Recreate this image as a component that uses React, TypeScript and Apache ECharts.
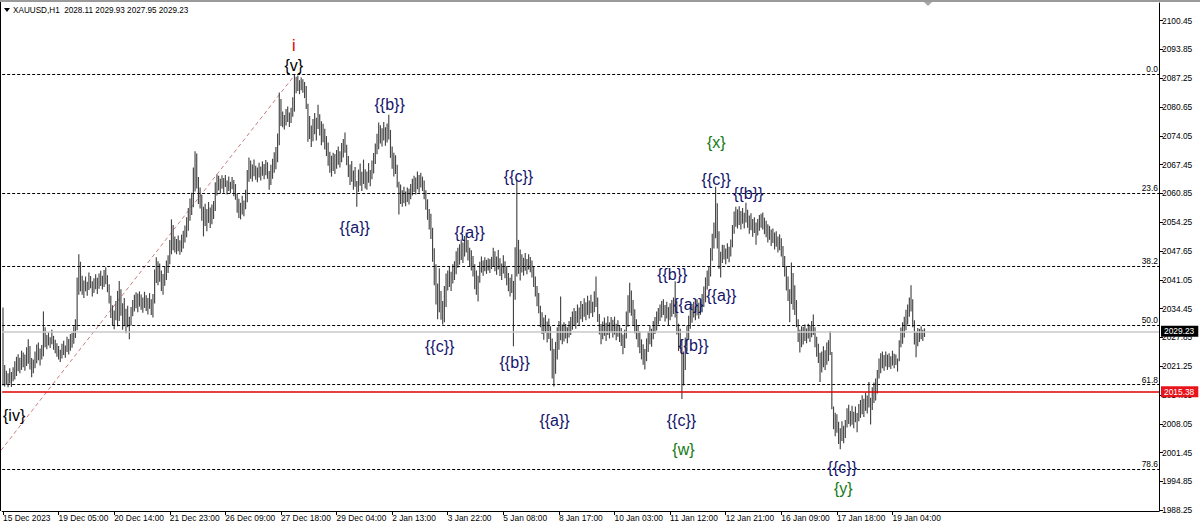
import React, { useEffect, useRef } from "react";
import * as echarts from "echarts";

// ---------- data ----------
const HEADER_TEXT = "XAUUSD,H1  2028.11 2029.93 2027.95 2029.23";

const X_TICK_BARS = [0, 33, 66, 99, 132, 165, 198, 231, 264, 297, 330, 363, 396, 429, 462, 495, 528];
const X_TICK_LABELS = [
  "15 Dec 2023", "19 Dec 05:00", "20 Dec 14:00", "21 Dec 23:00", "26 Dec 09:00", "27 Dec 18:00",
  "29 Dec 04:00", "2 Jan 13:00", "3 Jan 22:00", "5 Jan 08:00", "8 Jan 17:00", "10 Jan 03:00",
  "11 Jan 12:00", "12 Jan 21:00", "16 Jan 09:00", "17 Jan 18:00", "19 Jan 04:00",
];
const Y_TICKS = [
  1988.25, 1994.85, 2001.45, 2008.05, 2014.65, 2021.25, 2027.85, 2034.45, 2041.05,
  2047.65, 2054.25, 2060.85, 2067.45, 2074.05, 2080.65, 2087.25, 2093.85, 2100.45,
];

const FIB_LABELS = ["0.0", "23.6", "38.2", "50.0", "61.8", "78.6"];
const FIB_PRICES = [2088.2, 2061.0, 2044.2, 2030.6, 2017.0, 1997.6];
const FIB_TREND = [[-60.1, 1972.9], [173.6, 2088.2]];

const BID_PRICE = 2029.23;
const ALERT_PRICE = 2015.38;

// hourly bars: [low, high]
const BARS: number[][] = [
  [2016.8,2034.7],[2016.6,2021.5],[2017.0,2020.2],[2016.4,2019.6],[2017.3,2020.8],[2016.5,2019.9],[2017.8,2021.0],[2018.2,2022.4],[2019.0,2023.4],[2020.1,2024.0],
  [2019.6,2023.2],[2020.4,2024.8],[2021.0,2024.4],[2020.2,2023.9],[2021.3,2025.6],[2021.8,2027.4],[2020.5,2025.9],[2018.7,2023.1],[2019.6,2022.8],[2020.8,2024.6],
  [2021.9,2026.2],[2022.6,2026.7],[2021.4,2025.3],[2022.8,2026.1],[2023.5,2033.8],[2025.6,2030.2],[2025.1,2028.4],[2026.0,2029.0],[2025.4,2027.9],[2026.3,2029.6],
  [2025.0,2028.2],[2024.2,2027.3],[2023.4,2026.5],[2022.8,2025.9],[2022.2,2025.0],[2023.0,2026.4],[2023.8,2027.1],[2023.2,2026.0],[2024.5,2028.0],[2023.9,2027.5],
  [2024.8,2028.6],[2025.5,2028.9],[2026.4,2030.4],[2027.7,2032.0],[2029.5,2041.6],[2037.6,2046.9],[2038.4,2045.2],[2037.6,2042.0],[2036.9,2040.9],[2038.4,2041.8],
  [2037.4,2040.6],[2038.7,2042.7],[2039.1,2041.9],[2037.2,2040.7],[2038.0,2041.4],[2038.9,2042.3],[2037.8,2041.5],[2039.0,2042.5],[2039.6,2043.1],[2038.8,2042.0],
  [2039.4,2043.3],[2040.0,2043.9],[2038.2,2042.1],[2035.6,2040.0],[2032.3,2037.4],[2030.6,2035.2],[2029.7,2034.0],[2031.8,2036.2],[2030.4,2038.5],[2031.6,2040.8],
  [2032.8,2038.9],[2029.6,2035.7],[2030.4,2036.9],[2028.8,2034.4],[2030.2,2035.1],[2027.4,2032.6],[2030.6,2034.8],[2032.7,2036.4],[2033.8,2037.6],[2034.5,2038.2],
  [2033.6,2037.9],[2034.9,2038.4],[2034.2,2037.7],[2033.5,2037.0],[2034.6,2038.3],[2033.9,2037.5],[2033.1,2036.9],[2034.4,2038.0],[2033.0,2036.6],[2032.4,2037.8],
  [2035.6,2043.4],[2040.3,2046.2],[2039.8,2045.3],[2040.6,2044.8],[2038.5,2043.2],[2037.6,2042.4],[2039.7,2044.0],[2041.0,2045.5],[2042.6,2046.7],[2044.6,2050.2],
  [2046.9,2054.9],[2047.8,2053.6],[2047.3,2051.0],[2046.9,2050.4],[2047.6,2051.2],[2046.8,2050.1],[2047.4,2051.4],[2048.2,2052.3],[2049.6,2053.5],[2050.8,2055.4],
  [2052.3,2057.5],[2054.6,2059.7],[2055.9,2061.0],[2057.7,2066.8],[2061.3,2070.5],[2062.0,2070.0],[2058.4,2064.6],[2057.4,2062.2],[2054.6,2060.5],[2051.0,2057.8],
  [2053.4,2058.5],[2052.2,2057.3],[2054.1,2058.9],[2052.9,2057.6],[2053.8,2058.3],[2055.0,2059.1],[2056.8,2063.4],[2060.4,2065.2],[2061.5,2064.9],[2060.8,2064.2],
  [2061.9,2065.0],[2061.0,2064.4],[2062.3,2065.1],[2060.6,2063.8],[2061.4,2064.7],[2060.9,2063.5],[2061.8,2064.6],[2060.2,2063.9],[2059.4,2063.0],[2056.4,2060.8],
  [2055.2,2059.6],[2054.9,2058.7],[2056.0,2060.3],[2055.6,2059.2],[2057.2,2061.7],[2058.8,2066.2],[2063.5,2069.1],[2064.2,2068.4],[2063.6,2067.5],[2064.8,2068.6],
  [2064.0,2067.2],[2063.4,2066.8],[2064.5,2067.9],[2063.8,2067.0],[2064.9,2068.2],[2064.1,2067.6],[2065.0,2068.5],[2064.2,2068.0],[2061.7,2066.0],[2062.8,2067.4],
  [2064.2,2068.8],[2065.6,2070.3],[2066.4,2071.5],[2068.0,2074.6],[2071.9,2084.0],[2076.3,2082.5],[2076.0,2079.6],[2075.5,2078.8],[2076.4,2080.2],[2077.2,2080.8],
  [2076.1,2079.4],[2077.0,2080.5],[2078.4,2082.9],[2079.6,2088.1],[2083.8,2087.6],[2084.3,2087.9],[2083.6,2086.8],[2084.5,2087.4],[2083.9,2087.0],[2082.7,2086.4],
  [2080.2,2085.5],[2072.7,2081.4],[2073.3,2078.6],[2071.5,2076.4],[2072.8,2077.9],[2074.4,2079.3],[2073.0,2078.2],[2075.6,2081.2],[2074.1,2079.0],[2071.9,2077.4],
  [2072.6,2076.8],[2070.9,2075.7],[2069.4,2074.0],[2067.2,2072.5],[2065.6,2070.4],[2064.7,2069.5],[2066.0,2070.2],[2065.3,2069.9],[2066.5,2070.8],[2067.4,2071.6],
  [2066.8,2070.5],[2068.0,2072.4],[2069.1,2073.3],[2070.2,2074.8],[2067.3,2072.0],[2064.6,2069.4],[2062.8,2067.5],[2063.5,2068.3],[2061.7,2066.1],[2062.4,2066.9],
  [2057.8,2063.7],[2061.2,2066.3],[2062.6,2067.7],[2061.4,2065.8],[2063.0,2068.6],[2062.0,2066.4],[2061.7,2065.9],[2063.3,2067.8],[2062.5,2066.2],[2064.1,2068.4],
  [2065.4,2070.1],[2067.6,2072.3],[2069.8,2074.5],[2071.0,2077.1],[2072.3,2076.5],[2071.6,2075.8],[2073.0,2077.2],[2071.8,2076.0],[2072.5,2076.9],[2073.2,2078.9],
  [2069.0,2075.4],[2066.5,2071.6],[2064.7,2070.2],[2065.3,2069.6],[2062.2,2067.4],[2056.0,2063.5],[2058.4,2062.9],[2057.8,2061.6],[2058.6,2062.4],[2057.9,2061.3],
  [2058.9,2062.2],[2058.3,2061.9],[2059.5,2063.0],[2060.4,2064.2],[2061.2,2064.9],[2060.6,2064.5],[2061.8,2065.9],[2061.0,2065.1],[2062.2,2065.6],[2061.4,2064.7],
  [2059.5,2063.8],[2057.1,2061.6],[2054.8,2059.5],[2052.6,2057.3],[2050.4,2056.2],[2045.2,2053.0],[2039.8,2048.3],[2035.4,2044.6],[2032.0,2040.2],[2033.6,2043.7],
  [2031.9,2038.5],[2030.8,2036.2],[2031.3,2039.6],[2034.8,2042.5],[2038.6,2043.2],[2039.4,2044.1],[2038.5,2042.9],[2040.2,2044.6],[2041.0,2045.3],[2042.3,2047.6],
  [2043.8,2048.4],[2044.5,2049.2],[2045.6,2050.3],[2044.9,2049.6],[2046.4,2051.1],[2047.3,2051.9],[2045.5,2050.2],[2044.0,2048.4],[2043.2,2047.8],[2041.8,2046.5],
  [2038.9,2044.6],[2037.6,2043.2],[2036.1,2042.0],[2040.4,2045.2],[2042.7,2046.4],[2042.0,2045.5],[2043.0,2046.2],[2042.4,2045.6],[2043.2,2046.0],[2042.6,2045.8],
  [2043.5,2046.3],[2044.1,2048.4],[2043.0,2047.6],[2042.2,2046.4],[2043.4,2047.9],[2041.9,2046.0],[2041.0,2044.8],[2042.5,2046.7],[2041.4,2045.3],[2039.8,2044.2],
  [2038.4,2042.6],[2037.2,2041.5],[2038.0,2042.3],[2025.8,2040.8],[2036.5,2048.5],[2041.8,2064.0],[2042.4,2050.2],[2040.9,2048.0],[2042.7,2046.9],[2042.0,2046.1],
  [2043.1,2047.2],[2042.3,2045.8],[2043.4,2046.9],[2042.8,2046.3],[2041.6,2045.5],[2039.4,2044.0],[2037.2,2041.8],[2035.0,2039.6],[2033.4,2038.0],[2030.2,2035.1],
  [2028.6,2033.6],[2027.3,2032.4],[2028.9,2033.0],[2026.7,2031.5],[2027.5,2032.2],[2024.8,2030.4],[2018.4,2027.6],[2016.6,2025.2],[2019.5,2026.8],[2022.8,2030.2],
  [2025.0,2031.6],[2027.2,2037.2],[2026.3,2030.8],[2026.9,2031.3],[2027.6,2030.9],[2026.5,2030.2],[2027.8,2031.6],[2028.4,2032.5],[2029.6,2033.8],[2030.5,2034.6],
  [2029.8,2033.9],[2031.2,2035.4],[2030.6,2034.7],[2032.0,2036.2],[2031.4,2035.5],[2032.6,2036.8],[2031.8,2035.9],[2033.0,2037.4],[2032.2,2036.3],[2033.4,2037.6],
  [2032.5,2036.0],[2033.6,2038.4],[2034.8,2041.8],[2031.4,2037.0],[2028.5,2033.2],[2026.3,2030.9],[2027.4,2031.5],[2028.2,2032.4],[2027.0,2031.2],[2028.4,2032.7],
  [2027.6,2031.3],[2028.9,2032.5],[2027.8,2031.9],[2028.5,2032.6],[2027.2,2031.0],[2028.0,2031.8],[2026.8,2030.6],[2025.9,2030.0],[2024.0,2028.5],[2025.4,2029.6],
  [2027.6,2033.8],[2030.3,2037.5],[2033.5,2040.4],[2032.8,2038.6],[2030.6,2036.4],[2028.8,2034.3],[2027.4,2032.0],[2025.6,2030.7],[2024.2,2029.3],[2022.8,2027.4],
  [2021.6,2026.3],[2020.5,2025.2],[2022.4,2027.6],[2024.5,2029.2],[2026.3,2030.6],[2025.7,2029.8],[2027.4,2031.6],[2028.6,2032.5],[2029.4,2033.8],[2030.8,2034.6],
  [2031.6,2035.4],[2032.4,2036.2],[2033.0,2036.6],[2031.5,2035.3],[2032.2,2036.0],[2030.6,2034.8],[2031.8,2035.7],[2032.6,2036.4],[2033.2,2037.0],[2032.4,2040.7],
  [2028.5,2036.2],[2024.7,2031.0],[2025.2,2029.8],[2013.7,2027.4],[2016.8,2024.6],[2020.4,2027.8],[2024.6,2030.5],[2027.3,2032.8],[2029.8,2034.6],[2031.2,2035.5],
  [2032.4,2036.0],[2031.8,2035.2],[2032.9,2036.6],[2032.1,2035.8],[2033.0,2036.4],[2033.6,2037.8],[2034.8,2039.5],[2035.9,2041.6],[2038.8,2043.2],[2039.6,2044.1],
  [2041.8,2048.3],[2045.4,2051.6],[2048.2,2054.2],[2050.6,2062.4],[2048.2,2058.6],[2043.6,2052.2],[2041.6,2047.5],[2044.9,2049.1],[2045.7,2049.0],[2044.6,2048.2],
  [2045.9,2049.4],[2045.1,2048.6],[2046.4,2050.3],[2048.5,2053.6],[2051.6,2056.7],[2053.2,2057.8],[2052.8,2057.2],[2053.6,2057.9],[2052.6,2056.8],[2053.9,2057.5],
  [2052.8,2056.4],[2054.2,2058.7],[2053.0,2057.1],[2051.6,2055.8],[2052.4,2056.3],[2050.9,2055.0],[2051.8,2055.4],[2049.1,2054.2],[2051.2,2055.0],[2052.3,2055.9],
  [2053.0,2056.2],[2052.6,2056.5],[2051.5,2055.3],[2050.8,2054.6],[2049.6,2053.8],[2050.2,2053.4],[2048.8,2052.6],[2049.5,2052.8],[2048.0,2051.9],[2048.6,2052.2],
  [2047.3,2051.0],[2047.8,2051.5],[2046.4,2050.6],[2044.1,2048.8],[2041.8,2046.5],[2038.6,2044.2],[2036.2,2041.8],[2031.3,2038.9],[2035.5,2045.0],[2034.2,2042.6],
  [2033.0,2039.8],[2030.2,2036.4],[2026.8,2032.0],[2024.4,2029.6],[2025.6,2030.4],[2026.2,2030.3],[2027.0,2030.8],[2026.5,2029.9],[2027.6,2031.0],[2026.8,2030.5],
  [2027.9,2031.6],[2028.4,2033.1],[2025.6,2030.2],[2023.4,2028.0],[2022.0,2026.4],[2017.6,2024.3],[2019.8,2024.6],[2021.0,2025.8],[2020.4,2024.9],[2021.6,2026.7],
  [2022.4,2027.2],[2023.8,2029.3],[2011.4,2024.5],[2006.8,2012.0],[2005.2,2010.6],[2006.0,2010.2],[2003.4,2008.5],[2002.2,2007.0],[2004.1,2008.6],[2003.6,2007.6],
  [2004.8,2008.9],[2007.2,2011.6],[2008.0,2012.4],[2007.4,2011.0],[2007.8,2012.2],[2007.0,2010.8],[2008.4,2012.0],[2006.1,2010.5],[2008.6,2012.6],[2009.4,2013.5],
  [2010.2,2014.6],[2009.6,2013.8],[2011.0,2015.2],[2010.4,2014.5],[2011.8,2017.6],[2007.9,2014.0],[2011.2,2016.4],[2012.8,2017.5],[2013.4,2018.4],[2015.0,2020.4],
  [2018.4,2023.0],[2019.6,2024.2],[2020.8,2024.6],[2020.2,2023.8],[2021.2,2024.6],[2020.4,2023.9],[2021.0,2024.2],[2020.6,2023.5],[2021.4,2024.8],[2020.8,2024.1],
  [2021.5,2023.9],[2020.0,2023.0],[2022.4,2027.2],[2025.6,2030.1],[2026.4,2031.3],[2027.8,2032.6],[2029.5,2034.2],[2030.8,2035.4],[2032.6,2037.0],[2033.8,2039.8],
  [2030.2,2036.6],[2026.2,2031.8],[2023.3,2029.2],[2025.8,2030.0],[2026.8,2029.8],[2027.4,2030.4],[2027.0,2029.6],[2027.95,2029.93],
];

// Elliott wave labels: text, bar index, price, kind
const WAVE_TEXT = ["i", "{v}", "{iv}", "{{b}}", "{{a}}", "{{c}}", "{{a}}", "{{c}}", "{{b}}", "{{a}}", "{{b}}", "{{a}}", "{{b}}", "{{a}}", "{{c}}", "{w}", "{x}", "{{c}}", "{{b}}", "{{c}}", "{y}"];
const WAVE_BAR = [172.6, 172.6, 6.6, 229.5, 208.8, 259.2, 277, 306, 303.7, 327.4, 397.3, 406.8, 409.8, 426.4, 402.7, 403.9, 423.4, 423.4, 442.4, 498.2, 498.8];
const WAVE_PRICE = [2094.65, 2090.06, 2009.83, 2081.12, 2053.15, 2025.87, 2051.78, 2064.62, 2022.2, 2008.9, 2042.15, 2035.5, 2026.1, 2037.56, 2008.9, 2002.26, 2072.41, 2063.93, 2060.72, 1998.13, 1993.32];
const WAVE_KIND = ["red", "black", "black", "navy", "navy", "navy", "navy", "navy", "navy", "navy", "navy", "navy", "navy", "navy", "navy", "green", "green", "navy", "navy", "navy", "green"];

const KIND_COLOR: Record<string, string> = { red: "#e60000", black: "#000000", navy: "#14146b", green: "#137a13" };
const SMALL = "'Liberation Sans', Arial, sans-serif";
const WAVE_FONT = "'Liberation Sans', Arial, sans-serif";
const SMALL_SIZE = 8.4;

export default function App() {
  const ref = useRef<HTMLDivElement>(null);

  useEffect(() => {
    if (!ref.current) return;
    const chart = echarts.init(ref.current, null, { renderer: "svg" });

    const renderBar = (params: any, api: any) => {
      const lo = api.coord([api.value(0), api.value(1)]);
      const hi = api.coord([api.value(0), api.value(2)]);
      return {
        type: "line",
        shape: { x1: lo[0], y1: lo[1], x2: hi[0], y2: hi[1] },
        style: { stroke: "#454545", lineWidth: 1.15 },
      };
    };

    const fibLines = FIB_PRICES.map((p, i) => ({
      yAxis: p,
      lineStyle: { color: "#000", width: 1, type: [3, 2] },
      label: {
        show: true, position: "insideEndTop", formatter: () => FIB_LABELS[i], distance: 1,
        color: "#000", fontFamily: SMALL, fontSize: SMALL_SIZE,
      },
    }));

    const priceLine = (p: number, line: string, box: string) => ({
      yAxis: p,
      lineStyle: { color: line, width: 1.6, type: "solid" },
      label: {
        show: true, position: "end", distance: 2, formatter: () => p.toFixed(2),
        color: "#fff", backgroundColor: box, padding: [2, 4, 1, 3],
        fontFamily: SMALL, fontSize: SMALL_SIZE,
      },
    });

    chart.setOption({
      animation: false,
      backgroundColor: "#ffffff",
      grid: { left: 1, right: 41, top: 3, bottom: 18 },
      xAxis: {
        type: "value", min: -0.5, max: 686.2,
        axisLine: { show: true, onZero: false, lineStyle: { color: "#000", width: 1 } },
        axisTick: { show: true, length: 4, customValues: X_TICK_BARS, lineStyle: { color: "#000" } },
        axisLabel: {
          customValues: X_TICK_BARS,
          formatter: (v: number) => {
            const k = X_TICK_BARS.indexOf(Math.round(v));
            return k >= 0 ? X_TICK_LABELS[k] : "";
          },
          align: "left", margin: 3, color: "#000", fontFamily: SMALL, fontSize: SMALL_SIZE,
        },
        splitLine: { show: false },
      },
      yAxis: {
        type: "value", position: "right", min: 1988.05, max: 2104.5,
        axisLine: { show: true, onZero: false, lineStyle: { color: "#000", width: 1 } },
        axisTick: { show: true, length: 4, customValues: Y_TICKS, lineStyle: { color: "#000" } },
        axisLabel: {
          customValues: Y_TICKS,
          formatter: (v: number) => v.toFixed(2),
          margin: 3, color: "#000", fontFamily: SMALL, fontSize: SMALL_SIZE,
        },
        splitLine: { show: false },
      },
      series: [
        {
          type: "line", name: "fib", data: FIB_TREND, symbol: "none", silent: true, z: 1,
          lineStyle: { color: "#c88080", width: 1, type: [4, 3] },
          markLine: {
            silent: true, symbol: ["none", "none"], animation: false,
            data: [
              ...fibLines,
              priceLine(BID_PRICE, "#c8c8c8", "#000000"),
              priceLine(ALERT_PRICE, "#e00000", "#e8141c"),
            ],
          },
        },
        {
          type: "custom", name: "XAUUSD,H1", z: 3,
          data: BARS.map((b, i) => [i, b[0], b[1]]),
          encode: { x: 0, y: [1, 2] },
          renderItem: renderBar,
        },
        {
          type: "scatter", name: "waves", z: 5, silent: true, symbolSize: 1,
          itemStyle: { color: "rgba(0,0,0,0)", opacity: 1 },
          data: WAVE_TEXT.map((t, i) => ({
            value: [WAVE_BAR[i], WAVE_PRICE[i]],
            label: { formatter: () => t, color: KIND_COLOR[WAVE_KIND[i]] },
          })),
          label: { show: true, position: "inside", fontFamily: WAVE_FONT, fontSize: 16 },
        },
      ],
      graphic: [
        { type: "rect", shape: { x: 0, y: 0, width: 1200, height: 2 }, style: { fill: "#9a9a9a" }, silent: true },
        { type: "line", shape: { x1: 0.5, y1: 2, x2: 0.5, y2: 511 }, style: { stroke: "#000", lineWidth: 1 }, silent: true },
        { type: "polygon", shape: { points: [[4, 8], [10, 8], [7, 12]] }, style: { fill: "#000" }, silent: true },
        {
          type: "text", x: 13, y: 10, scaleX: 0.86, silent: true,
          style: { text: HEADER_TEXT, fill: "#000", fontFamily: SMALL, fontSize: 9.5, verticalAlign: "middle" },
        },
        { type: "polygon", shape: { points: [[924, 2], [932, 2], [928, 6]] }, style: { fill: "#a8a8a8" }, silent: true },
      ],
    });

    return () => chart.dispose();
  }, []);

  return <div ref={ref} style={{ position: "fixed", left: 0, top: 0, width: 1200, height: 529 }} />;
}
